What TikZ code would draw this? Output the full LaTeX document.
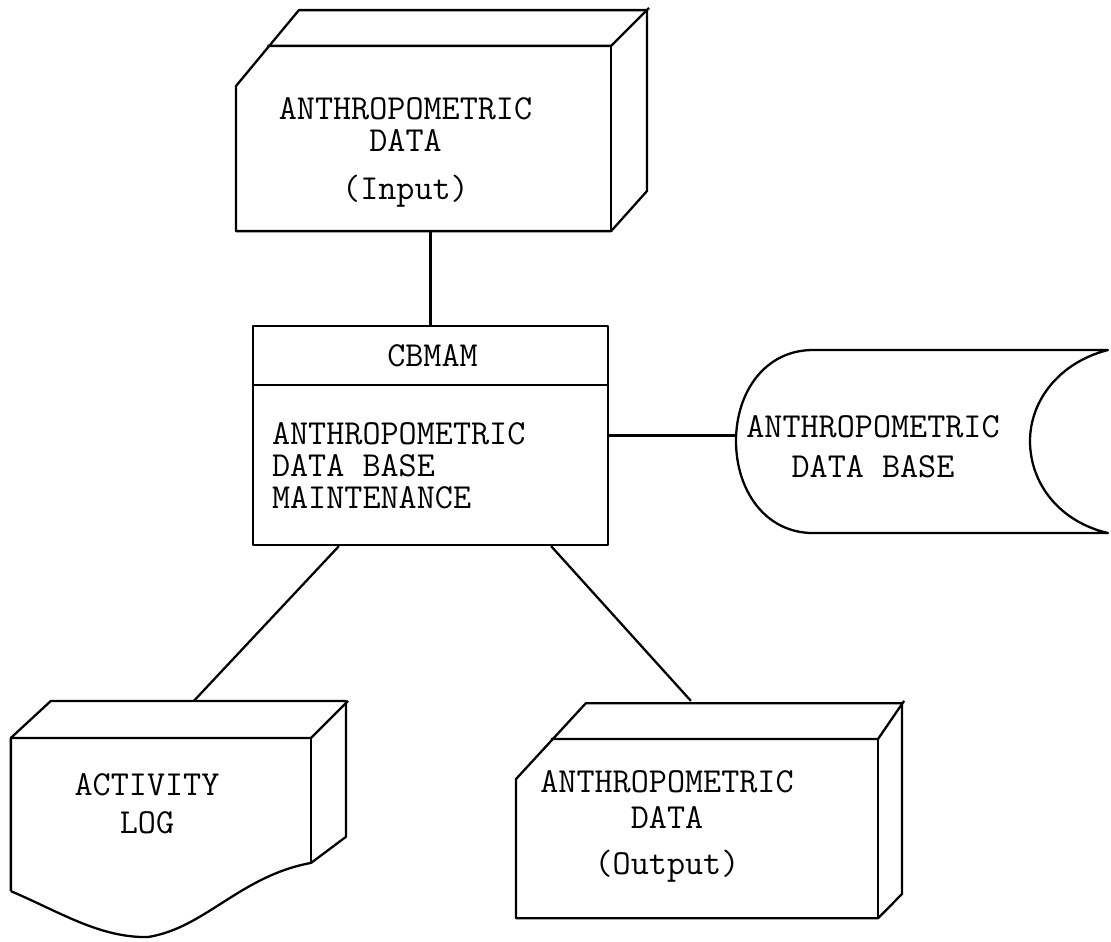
\documentclass[tikz,border=0pt]{standalone}
\usepackage{fontspec}
\setmonofont{Latin Modern Mono}
\usetikzlibrary{positioning}

\begin{document}
\begin{tikzpicture}[
    x=0.02cm, y=-0.02cm,
    line width=1.3pt, line join=round,
    block/.style={rectangle, draw, inner sep=0pt},
    hidden/.style={rectangle, inner sep=0pt},
    caption/.style={font=\ttfamily\fontsize{20}{18.2}\selectfont, align=center, inner sep=0pt}
]
\useasboundingbox (0,0) rectangle (1111,941);

% Input card
\node[hidden, minimum width=7.46cm, minimum height=3.66cm] (input) at (423.5,138.5) {};
\draw (input.south west) -- ++(0,-145) -- ++(63,-76) -- ++(348,0) -- ++(0,181) -- (input.south east) -- cycle;
\draw ([shift={(31.5,0)}]input.north west) -- (input.north east) -- ++(38,-38);
\draw (input.north east) -- (input.south east);
\node[caption] (input-txt) at ([shift={(-18,14)}]input.center) {ANTHROPOMETRIC\\DATA\\[9pt](Input)};

% Program box
\node[block, minimum width=7.1cm, minimum height=4.38cm] (main) at (430.5,435.5) {};
\draw ([shift={(0,60)}]main.north west) -- ([shift={(0,60)}]main.north east);
\node[caption] (main-title) at ([shift={(2,31)}]main.north) {CBMAM};
\node[caption, align=left, anchor=west] (main-body) at ([shift={(19,30)}]main.west) {ANTHROPOMETRIC\\DATA BASE\\MAINTENANCE};

% Stored data base
\node[hidden, minimum width=7.44cm, minimum height=3.66cm] (dbase) at (922,441.5) {};
\draw (813,350) -- (1108,350) .. controls (1060,362) and (1030,400) .. (1030,441)
    .. controls (1030,484) and (1060,522) .. (1108,533) -- (813,533)
    .. controls (765,533) and (736,490) .. (736,441)
    .. controls (736,392) and (765,350) .. (813,350);
\node[caption] (dbase-txt) at (873,447) {ANTHROPOMETRIC\\[4.6pt]DATA BASE};

% Activity log (document)
\node[hidden, minimum width=5.96cm, minimum height=3.02cm] (actlog) at (161,814.5) {};
\draw (actlog.south west) -- (actlog.north west) -- ++(40,-37) -- ++(295,0) -- ++(0,136)
    -- ([shift={(0,125)}]actlog.north east)
    .. controls (240,876) and (205,928) .. (148,937)
    .. controls (100,938) and (60,912) .. (actlog.south west);
\draw (actlog.north west) -- (actlog.north east) -- ++(37,-37);
\draw (actlog.north east) -- ++(0,125);
\node[caption] (actlog-txt) at (147,804) {ACTIVITY\\[3.4pt]LOG};

% Output card
\node[hidden, minimum width=7.2cm, minimum height=3.54cm] (output) at (697,828.5) {};
\draw (output.south west) -- ++(0,-139) -- ++(70,-76) -- ++(316,0) -- ++(0,191) -- (output.south east) -- cycle;
\draw ([shift={(35,0)}]output.north west) -- (output.north east) -- ++(26,-38);
\draw (output.north east) -- (output.south east);
\node[caption] (output-txt) at (667,826) {ANTHROPOMETRIC\\[2.3pt]DATA\\[8pt](Output)};

% Links
\draw (main.north |- input.south) -- (main.north);
\draw (main.east) -- (main.east -| dbase.west);
\draw ([shift={(87,0)}]main.south west) -- ([shift={(183,-37)}]actlog.north west);
\draw ([shift={(-58,0)}]main.south east) -- ([shift={(175,-38)}]output.north west);

\end{tikzpicture}
\end{document}
